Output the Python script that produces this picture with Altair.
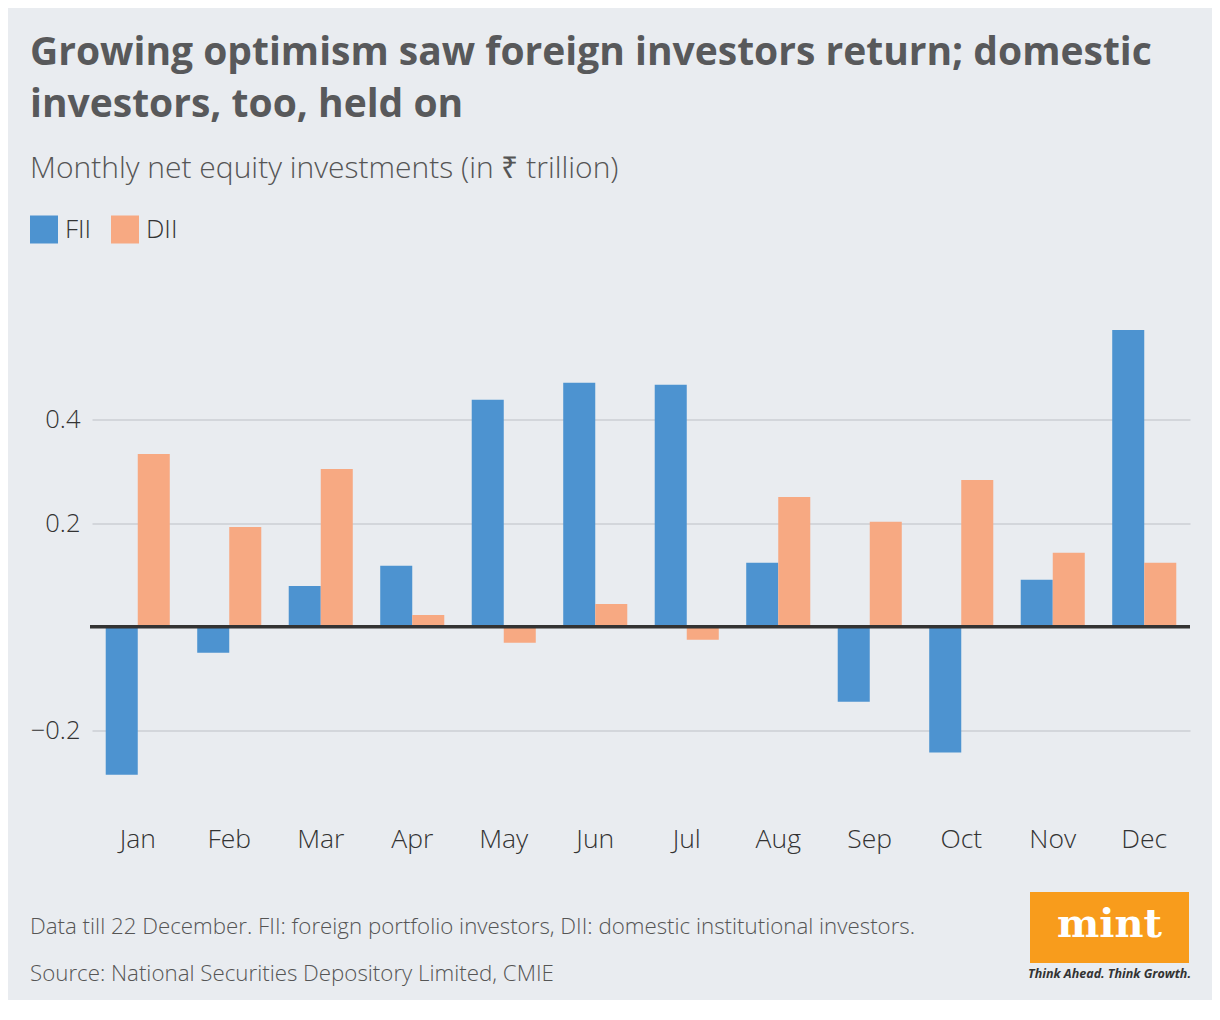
import altair as alt
import pandas as pd

months = ["Jan", "Feb", "Mar", "Apr", "May", "Jun", "Jul", "Aug", "Sep", "Oct", "Nov", "Dec"]
fii = [-0.286, -0.050, 0.079, 0.118, 0.439, 0.472, 0.468, 0.124, -0.145, -0.243, 0.091, 0.574]
dii = [0.334, 0.193, 0.305, 0.023, -0.031, 0.044, -0.025, 0.251, 0.203, 0.284, 0.143, 0.124]
series = ["FII", "DII"]
colors = ["#4D93D0", "#F7A982"]
y_ticks = [-0.2, 0.2, 0.4]

title_lines = ["Growing optimism saw foreign investors return; domestic", "investors, too, held on"]
subtitle = "Monthly net equity investments (in \u20b9 trillion)"
note = "Data till 22 December. FII: foreign portfolio investors, DII: domestic institutional investors."
source = "Source: National Securities Depository Limited, CMIE"

rows = []
for m, f, d in zip(months, fii, dii):
    rows.append({"month": m, "series": "FII", "value": f})
    rows.append({"month": m, "series": "DII", "value": d})
df = pd.DataFrame(rows)

FONT = "Open Sans"

bars = alt.Chart(df).mark_bar().encode(
    x=alt.X("month:N", sort=months, title=None,
            scale=alt.Scale(paddingInner=0.3, paddingOuter=0.15),
            axis=alt.Axis(domain=False, ticks=False, labelAngle=0, labelPadding=65,
                          labelBaseline="alphabetic",
                          labelFontSize=26.5, labelFontWeight=300, labelColor="#333333",
                          labelFont=FONT, grid=False)),
    xOffset=alt.XOffset("series:N", sort=series),
    y=alt.Y("value:Q", title=None,
            scale=alt.Scale(domain=[-0.3, 0.6], nice=False),
            axis=alt.Axis(values=y_ticks, format=".1f", domain=False, ticks=False,
                          labelFontSize=25.5, labelFontWeight=300, labelColor="#333333",
                          labelFont=FONT, labelPadding=12, gridColor="#D3D6DB", gridWidth=2)),
    color=alt.Color("series:N", sort=series,
                    scale=alt.Scale(domain=series, range=colors),
                    legend=alt.Legend(title=None, orient="none", legendX=-62, legendY=-101,
                                      direction="horizontal", symbolType="square",
                                      symbolSize=784, symbolStrokeWidth=0, symbolOpacity=1,
                                      labelFontSize=26, labelFontWeight=300, labelFont=FONT,
                                      labelColor="#333333", labelOffset=7, columnPadding=19)),
)

zero = alt.Chart(pd.DataFrame({"v": [0.0]})).mark_rule(color="#333333", strokeWidth=3.5).encode(
    y="v:Q", x=alt.value(-2), x2=alt.value(1098)
)

def text_layer(txt, x, y, size, color, weight="normal", font=FONT, align="left", style="normal"):
    return alt.Chart(pd.DataFrame({"t": [txt]})).mark_text(
        align=align, baseline="alphabetic", fontSize=size, color=color,
        fontWeight=weight, font=font, fontStyle=style
    ).encode(text="t:N", x=alt.value(x), y=alt.value(y))

t1 = text_layer(title_lines[0], -62, -251.5, 39, "#58595B", weight="bold")
t2 = text_layer(title_lines[1], -62, -199.5, 39, "#58595B", weight="bold")
st = text_layer(subtitle, -62, -138.5, 30, "#555555", weight=300)
n1 = text_layer(note, -62, 617, 22.3, "#555555", weight=300)
n2 = text_layer(source, -62, 664, 22.3, "#555555", weight=300)

logo_box = alt.Chart(pd.DataFrame({"a": [1]})).mark_rect(color="#F89C1C").encode(
    x=alt.value(938), x2=alt.value(1097), y=alt.value(575.5), y2=alt.value(646.5)
)
logo_txt = text_layer("mint", 1017.5, 620, 40, "#FFFFFF", weight="bold", font="DejaVu Serif", align="center")
tag_txt = text_layer("Think Ahead. Think Growth.", 1017.5, 661, 12.5, "#333333", weight="bold",
                     font="Open Sans", align="center", style="italic")

chart = alt.layer(bars, zero, t1, t2, st, n1, n2, logo_box, logo_txt, tag_txt).properties(
    width=1098, height=465.5,
    autosize=alt.AutoSizeParams(type="none"),
    padding={"left": 84, "top": 308.5, "right": 22, "bottom": 218},
    background="#E9ECF0",
).configure_view(stroke=None)

chart.save("out.html", embed_options={"renderer": "svg", "actions": False})
